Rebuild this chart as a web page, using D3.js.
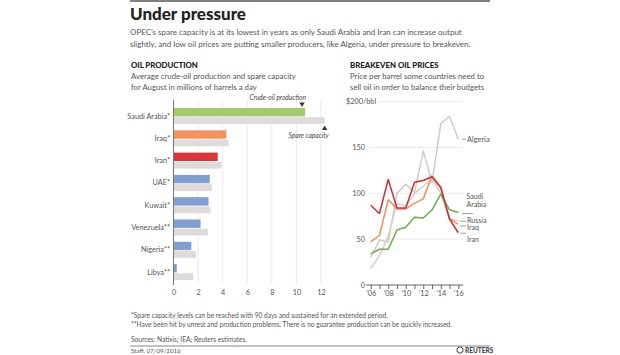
<!DOCTYPE html>
<html><head><meta charset="utf-8">
<script src="https://cdn.jsdelivr.net/npm/d3@7"></script>
<style>
body{margin:0;background:#fff;}
svg{display:block;font-family:Lato,"Open Sans",sans-serif;}
</style></head><body>
<svg id="c" width="620" height="355"></svg>
<script>
// ---- Data: oil production ----
const countries = ["Saudi Arabia*","Iraq*","Iran*","UAE*","Kuwait*","Venezuela**","Nigeria**","Libya**"];
const production = [10.7, 4.3, 3.6, 2.95, 2.85, 2.2, 1.45, 0.27];
const capacity = [12.3, 4.5, 3.9, 3.1, 3.0, 2.8, 1.85, 1.6];
const barColors = ["#a5c96e","#ef9461","#d8363b","#819fcf","#819fcf","#819fcf","#819fcf","#819fcf"];
const prodTicks = [0,2,4,6,8,10,12];

// ---- Data: breakeven prices ----
const years = [2006,2007,2008,2009,2010,2011,2012,2013,2014,2015,2016];
const algeria = [30, 49, 47, 100, 110, 101, 146, 112, 176, 184, 159];
const russia  = [18, 32, 53, 89, 86, 100, 108, 116, 100, 72, 70];
const saudi   = [34, 39, 39, 60, 63, 74, 73, 82, 99, 82, 79];
const iraq    = [47, 54, 93, 83, 83, 89, 94, 119, 107, 72, 66];
const iran    = [87, 78, 115, 84, 84, 112, 114, 118, 106, 72, 57];
const priceTicks = [0,50,100,150,200];
const yearTicks = [2006,2008,2010,2012,2014,2016];

const svg = d3.select("#c");
const dark = "#222", body = "#555";

// header
svg.append("line").attr("x1",130).attr("x2",490).attr("y1",1).attr("y2",1).attr("stroke","#555").attr("stroke-width",1.5);
svg.append("text").attr("x",130).attr("y",20).attr("font-size",17).attr("font-weight",900).attr("fill",dark).text("Under pressure");
const sub = ["OPEC’s spare capacity is at its lowest in years as only Saudi Arabia and Iran can increase output",
 "slightly, and low oil prices are putting smaller producers, like Algeria, under pressure to breakeven."];
sub.forEach((t,i)=>svg.append("text").attr("x",130).attr("y",35+i*11.5).attr("font-size",8).attr("fill",body).text(t));

// left panel titles
svg.append("text").attr("x",131).attr("y",68).attr("font-size",7.8).attr("font-weight",900).attr("fill",dark).text("OIL PRODUCTION");
["Average crude-oil production and spare capacity","for August in millions of barrels a day"].forEach((t,i)=>
  svg.append("text").attr("x",131).attr("y",79+i*10.5).attr("font-size",7.8).attr("fill",body).text(t));

// right panel titles
svg.append("text").attr("x",350).attr("y",68).attr("font-size",7.8).attr("font-weight",900).attr("fill",dark).text("BREAKEVEN OIL PRICES");
["Price per barrel some countries need to","sell oil in order to balance their budgets"].forEach((t,i)=>
  svg.append("text").attr("x",350).attr("y",79+i*10.5).attr("font-size",7.8).attr("fill",body).text(t));

// ---- bar chart ----
const x = d3.scaleLinear().domain([0,12]).range([173.5,321]);
const yb = d3.scaleBand().domain(countries).range([104,282.4]).padding(0);
const gb = svg.append("g");
gb.selectAll("line.grid").data(prodTicks.slice(1)).join("line")
  .attr("x1",d=>x(d)).attr("x2",d=>x(d)).attr("y1",100).attr("y2",284)
  .attr("stroke","#e9e6e1").attr("stroke-width",0.8);
gb.selectAll("rect.cap").data(countries).join("rect")
  .attr("x",x(0)).attr("y",d=>yb(d)+13.2).attr("height",6.8)
  .attr("width",(d,i)=>x(capacity[i])-x(0)).attr("fill","#dedbd8");
gb.selectAll("rect.prod").data(countries).join("rect")
  .attr("x",x(0)).attr("y",d=>yb(d)+4).attr("height",8.4)
  .attr("width",(d,i)=>x(production[i])-x(0)).attr("fill",(d,i)=>barColors[i]);
gb.selectAll("text.cat").data(countries).join("text")
  .attr("x",170).attr("y",d=>yb(d)+14.5).attr("text-anchor","end")
  .attr("font-size",7.3).attr("fill",body).text(d=>d);
gb.append("line").attr("x1",x(0)).attr("x2",x(0)).attr("y1",100).attr("y2",285).attr("stroke","#777").attr("stroke-width",1);
const xAxis = d3.axisBottom(x).tickValues(prodTicks).tickSize(0).tickPadding(0);
const gxa = gb.append("g").attr("transform","translate(0,290)").call(xAxis);
gxa.select(".domain").remove();
gxa.selectAll("text").attr("font-size",7.3).attr("fill",body).attr("font-family","Lato,sans-serif");

// annotations
const ann = svg.append("g").attr("font-size",6.6).attr("font-style","italic").attr("fill","#444");
ann.append("text").attr("x",x(production[0])+1).attr("y",100).attr("text-anchor","end").text("Crude-oil production");
ann.append("path").attr("d",d3.symbol(d3.symbolTriangle,12)()).attr("transform",`translate(${x(production[0])-3},104) rotate(180)`).attr("fill","#333");
ann.append("path").attr("d",d3.symbol(d3.symbolTriangle,12)()).attr("transform",`translate(${x(capacity[0])},128.5)`).attr("fill","#333");
ann.append("text").attr("x",x(capacity[0])+4).attr("y",138).attr("text-anchor","end").text("Spare capacity");

// ---- line chart ----
const xl = d3.scaleLinear().domain([2006,2016]).range([370.7,458.3]);
const yl = d3.scaleLinear().domain([0,200]).range([285,101.6]);
const gl = svg.append("g");
gl.selectAll("line.g").data(priceTicks.slice(1)).join("line")
  .attr("x1",d=>d===200?379:369).attr("x2",463).attr("y1",d=>yl(d)).attr("y2",d=>yl(d))
  .attr("stroke","#ebe6dc").attr("stroke-width",0.8);
gl.selectAll("text.yt").data(priceTicks).join("text")
  .attr("x",d=>d===200?346:365).attr("y",d=>yl(d)+2.5)
  .attr("text-anchor",d=>d===200?"start":"end")
  .attr("font-size",7.3).attr("fill",body).text(d=>d===200?"$200/bbl":d);
const xla = d3.axisBottom(xl).tickValues(years).tickSize(4).tickFormat(d=>yearTicks.includes(d)?"’"+String(d).slice(2):"");
const gxl = gl.append("g").attr("transform","translate(0,285)").call(xla);
gxl.select(".domain").attr("d","M366,0H463").attr("stroke","#666");
gxl.selectAll(".tick line").attr("stroke","#666");
gxl.selectAll("text").attr("font-size",7.3).attr("fill",body).attr("font-family","Lato,sans-serif").attr("dy","0.55em");

const series = [
  {name:"Algeria", vals:algeria, color:"#cdcdcd"},
  {name:"Russia", vals:russia, color:"#d9cdca"},
  {name:"Saudi", vals:saudi, color:"#6daa55"},
  {name:"Iraq", vals:iraq, color:"#ef9060"},
  {name:"Iran", vals:iran, color:"#c9303a"}
];
const line = d3.line().x((d,i)=>xl(years[i])).y(d=>yl(d));
gl.selectAll("path.s").data(series).join("path")
  .attr("d",d=>line(d.vals)).attr("fill","none").attr("stroke",d=>d.color)
  .attr("stroke-width",1.5).attr("stroke-linejoin","round");

// series labels with leaders
const lab = gl.append("g").attr("font-size",7).attr("fill",body);
const leaders = [
  {y: yl(algeria[10]), x1: 462, x2: 466},
  {y: yl(saudi[10])+1, x1: 462, x2: 473},
  {y: yl(russia[10])+0.5, x1: 460, x2: 466},
  {y: yl(iraq[10])+1.5, x1: 460, x2: 466},
  {y: yl(iran[10])+0.5, x1: 460, x2: 466}
];
lab.selectAll("line").data(leaders).join("line")
  .attr("x1",d=>d.x1).attr("x2",d=>d.x2).attr("y1",d=>d.y).attr("y2",d=>d.y)
  .attr("stroke","#888").attr("stroke-width",0.8);
lab.append("text").attr("x",467).attr("y",yl(algeria[10])+2.5).attr("font-size",7.4).text("Algeria");
lab.append("text").attr("x",466.5).attr("y",yl(saudi[10])-14).text("Saudi");
lab.append("text").attr("x",466.5).attr("y",yl(saudi[10])-6).text("Arabia");
lab.append("text").attr("x",467).attr("y",yl(russia[10])+2).text("Russia");
lab.append("text").attr("x",467).attr("y",yl(iraq[10])+5.8).text("Iraq");
lab.append("text").attr("x",467).attr("y",yl(iran[10])+9).text("Iran");

// footer
const foot = ["*Spare capacity levels can be reached with 90 days and sustained for an extended period.",
 "**Have been hit by unrest and production problems. There is no guarantee production can be quickly increased."];
foot.forEach((t,i)=>svg.append("text").attr("x",131).attr("y",318+i*9).attr("font-size",6.6).attr("fill",body).text(t));
svg.append("text").attr("x",131).attr("y",342).attr("font-size",6.6).attr("fill",body).text("Sources: Natixis; IEA; Reuters estimates.");
svg.append("line").attr("x1",130).attr("x2",490).attr("y1",346).attr("y2",346).attr("stroke","#666").attr("stroke-width",0.8);
svg.append("text").attr("x",131).attr("y",353).attr("font-size",6.2).attr("fill",body).text("Staff, 07/09/2016");
// reuters mark
const rg = svg.append("g");
const dots = d3.range(12).map(i=>i*Math.PI/6);
rg.selectAll("circle").data(dots).join("circle")
  .attr("cx",d=>460+Math.cos(d)*3).attr("cy",d=>350+Math.sin(d)*3).attr("r",0.8).attr("fill","#555");
rg.append("text").attr("x",465).attr("y",353).attr("font-size",6.5).attr("font-weight",900).attr("fill","#444").text("REUTERS");
</script>
</body></html>
